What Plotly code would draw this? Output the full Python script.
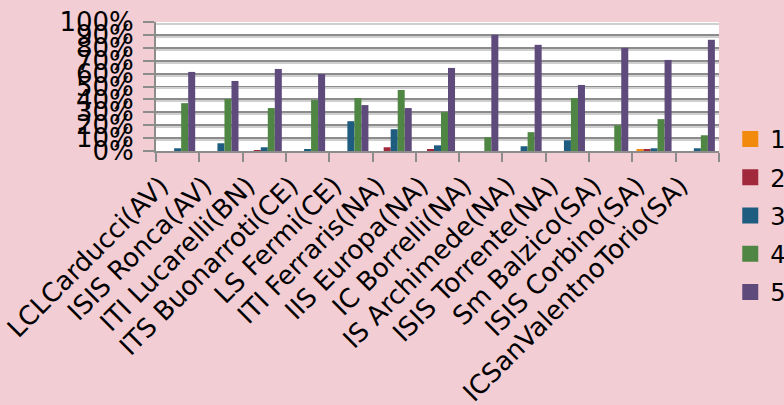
import plotly.graph_objects as go

categories = ["LCLCarducci(AV)", "ISIS Ronca(AV)", "ITI Lucarelli(BN)", "ITS Buonarroti(CE)",
              "LS Fermi(CE)", "ITI Ferraris(NA)", "IIS Europa(NA)", "IC Borrelli(NA)",
              "IS Archimede(NA)", "ISIS Torrente(NA)", "Sm Balzico(SA)", "ISIS Corbino(SA)",
              "ICSanValentnoTorio(SA)"]
series_names = ["1", "2", "3", "4", "5"]
s1 = [0, 0, 0, 0, 0, 0, 0, 0, 0, 0, 0, 1.3, 0]
s2 = [0, 0, 0.5, 0, 0, 2.9, 1.3, 0, 0, 0, 0, 1.3, 0]
s3 = [2.1, 6.0, 2.9, 1.3, 23.1, 16.9, 4.4, 0, 3.7, 8.3, 0, 2.1, 2.1]
s4 = [37.1, 40.3, 33.3, 39.5, 41.0, 47.3, 30.1, 10.7, 14.6, 41.0, 20.0, 24.7, 12.2]
s5 = [61.3, 54.3, 63.6, 59.7, 35.6, 33.3, 64.4, 90.1, 82.3, 51.2, 80.0, 70.6, 86.2]
colors = ["#F28A0E", "#A2283C", "#1E5C80", "#4F8643", "#5F4A7C"]
y_ticks = list(range(0, 101, 10))
y_labels = [f"{v}%" for v in y_ticks]

fig = go.Figure()
for name, vals, c in zip(series_names, [s1, s2, s3, s4, s5], colors):
    fig.add_trace(go.Bar(x=categories, y=vals, name=name, marker_color=c,
                         marker_line_width=0, legendgroup=name, showlegend=False))
# legend entries with larger square swatches
for name, c in zip(series_names, colors):
    fig.add_trace(go.Scatter(x=[categories[0]], y=[None], name=name, mode="markers",
                             marker=dict(symbol="square", size=16, color=c),
                             legendgroup=name, showlegend=True, hoverinfo="skip"))

# invisible trace to activate the offset grid axis
fig.add_trace(go.Scatter(x=[categories[0]], y=[None], yaxis="y2", showlegend=False,
                         hoverinfo="skip"))

font = dict(family="DejaVu Sans", size=26, color="black")
fig.update_layout(
    width=784, height=405,
    paper_bgcolor="#F2CDD3", plot_bgcolor="white",
    margin=dict(l=156, r=65, t=22, b=254, autoexpand=False),
    barmode="group", bargap=0.19, bargroupgap=0,
    font=font,
    legend=dict(x=1.02, xanchor="left", y=-0.5, yanchor="middle",
                font=dict(family="DejaVu Sans", size=24, color="black"),
                tracegroupgap=4, bgcolor="rgba(0,0,0,0)", itemsizing="trace"),
    xaxis=dict(type="category", range=[-0.5, len(categories) - 0.5],
               tickangle=-45, tickson="boundaries", ticks="outside",
               ticklen=9, tickwidth=2, tickcolor="#8C8C8C", showline=True,
               linecolor="#8C8C8C", linewidth=2, showgrid=False, tickfont=font,
               automargin=False, ticklabelshift=-17, ticklabelstandoff=7),
    yaxis=dict(range=[0, 100], tickvals=y_ticks, ticktext=y_labels, ticks="outside",
               ticklen=11, tickwidth=2, tickcolor="#8C8C8C", showline=True,
               linecolor="#8C8C8C", linewidth=2, gridcolor="#8C8C8C", gridwidth=1.6,
               zeroline=False, tickfont=font, ticklabelstandoff=4, automargin=False),
    yaxis2=dict(range=[1.5, 101.5], overlaying="y", tickvals=y_ticks[1:],
                showticklabels=False, ticks="", gridcolor="#CFCFCF", gridwidth=1.6,
                zeroline=False, showline=False, automargin=False),
)
fig.write_html("out.html", config={"displayModeBar": False},
               post_script="document.body.style.margin='0';"
                           "document.body.style.background='#F2CDD3';")
